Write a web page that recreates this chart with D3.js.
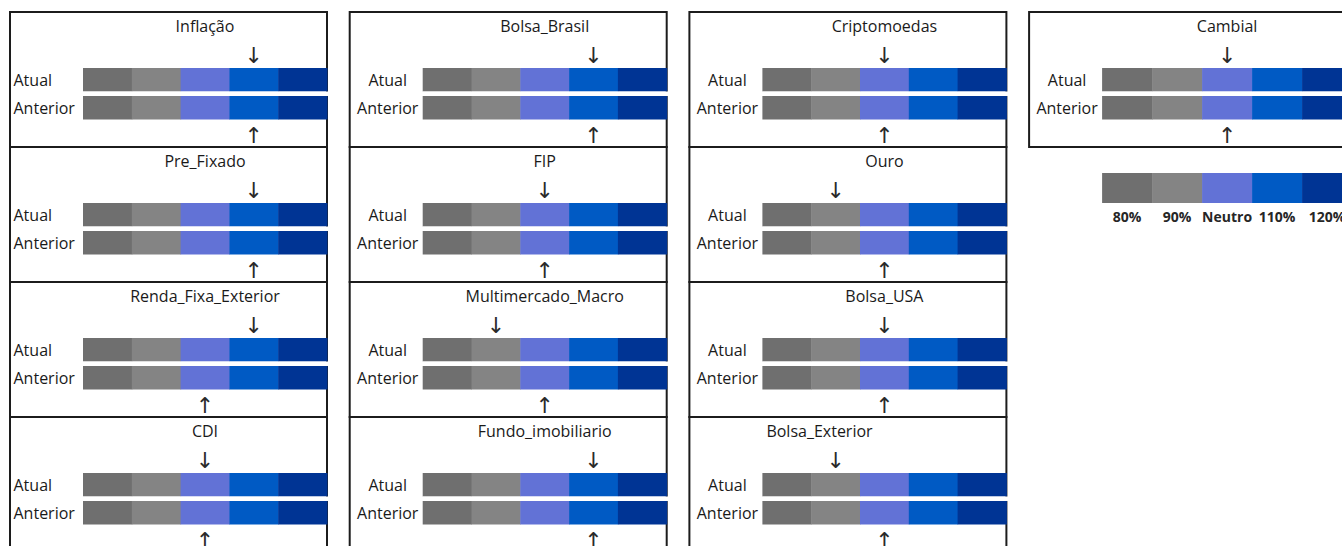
<!DOCTYPE html>
<html>
<head>
<meta charset="utf-8">
<script src="https://cdn.jsdelivr.net/npm/d3@7/dist/d3.min.js"></script>
<style>
  body { margin: 0; background: #ffffff; }
  svg { display: block; }
</style>
</head>
<body>
<svg id="chart" width="1342" height="546"></svg>
<script>
// Allocation levels (scale of each gauge) and their colours
const levels = ['80%', '90%', 'Neutro', '110%', '120%'];
const levelColors = ['#6f6f6f', '#848484', '#6272d6', '#005ac4', '#003494'];
const rowLabels = ['Atual', 'Anterior'];

// Asset classes, in reading order (first row holds four panels, the rest three)
const assets = [
  'Inflação', 'Bolsa_Brasil', 'Criptomoedas', 'Cambial',
  'Pre_Fixado', 'FIP', 'Ouro',
  'Renda_Fixa_Exterior', 'Multimercado_Macro', 'Bolsa_USA',
  'CDI', 'Fundo_imobiliario', 'Bolsa_Exterior'
];

// Current and previous recommendation for each asset class
const atual = [
  '110%', '110%', 'Neutro', 'Neutro',
  '110%', 'Neutro', '90%',
  '110%', '90%', 'Neutro',
  'Neutro', '110%', '90%'
];
const anterior = [
  '110%', '110%', 'Neutro', 'Neutro',
  '110%', 'Neutro', 'Neutro',
  'Neutro', 'Neutro', 'Neutro',
  'Neutro', '110%', 'Neutro'
];

// ---- layout ----
const originX = 10, originY = 12;
const colStep = 339.7, rowStep = 135;
const boxW = 317, boxH = 135;
const barInset = 73;           // from panel's left edge to the gauge
const barTop = 56;             // from panel's top edge to the first gauge row
const barSpan = 51.5;          // both gauge rows together
const fontText = "'Open Sans', 'Noto Sans', sans-serif";
const fontArrow = "'DejaVu Sans', sans-serif";

const svg = d3.select('#chart');

function panelPos(i) {
  if (i < 4) return { row: 0, col: i };
  return { row: 1 + Math.floor((i - 4) / 3), col: (i - 4) % 3 };
}

const rowScale = d3.scaleBand()
  .domain(rowLabels)
  .range([barTop, barTop + barSpan])
  .paddingInner(0.16)
  .paddingOuter(0);

const panels = assets.map((name, i) => ({
  name, i, ...panelPos(i), atual: atual[i], anterior: anterior[i]
}));

panels.forEach(p => {
  const x0 = originX + p.col * colStep;
  const y0 = originY + p.row * rowStep;
  const barW = p.col === 3 ? 250 : 244;
  const x = d3.scaleBand().domain(levels).range([x0 + barInset, x0 + barInset + barW]);
  const color = d3.scaleOrdinal().domain(levels).range(levelColors);

  const g = svg.append('g').attr('class', 'panel');

  // frame
  g.append('rect')
    .attr('x', x0).attr('y', y0)
    .attr('width', boxW).attr('height', boxH)
    .attr('fill', 'none')
    .attr('stroke', '#1c1c1c')
    .attr('stroke-width', 2);

  // title
  const bExtent = x.range();
  const alignStart = p.name === 'Bolsa_Exterior';
  g.append('text')
    .attr('x', alignStart ? bExtent[0] + 4 : (bExtent[0] + bExtent[1]) / 2)
    .attr('y', y0 + barTop - 36)
    .attr('text-anchor', alignStart ? 'start' : 'middle')
    .attr('font-family', fontText)
    .attr('font-size', 16)
    .attr('fill', '#1a1a1a')
    .text(p.name);

  // gauge rows
  rowLabels.forEach(r => {
    const ry = y0 + rowScale(r);
    const bh = rowScale.bandwidth();
    g.selectAll(null)
      .data(levels)
      .join('rect')
      .attr('x', d => x(d))
      .attr('y', ry)
      .attr('width', x.bandwidth() + 0.5)
      .attr('height', bh)
      .attr('fill', d => color(d));

    const col1 = p.col === 0;
    g.append('text')
      .attr('x', col1 ? x0 + 3.5 : x0 + 38)
      .attr('y', ry + bh / 2 + 6.5)
      .attr('text-anchor', col1 ? 'start' : 'middle')
      .attr('font-family', fontText)
      .attr('font-size', 16)
      .attr('fill', '#1a1a1a')
      .text(r);
  });

  // white gap between the two rows (also crosses the frame)
  const gapTop = y0 + rowScale('Atual') + rowScale.bandwidth();
  const gapBottom = y0 + rowScale('Anterior');
  g.append('rect')
    .attr('x', bExtent[0])
    .attr('y', gapTop)
    .attr('width', bExtent[1] - bExtent[0] + 2)
    .attr('height', gapBottom - gapTop)
    .attr('fill', '#fff');

  // markers: ↓ above for the current level, ↑ below for the previous one
  g.append('text')
    .attr('x', x(p.atual) + x.bandwidth() / 2)
    .attr('y', y0 + barTop - 5)
    .attr('text-anchor', 'middle')
    .attr('font-family', fontArrow)
    .attr('font-size', 22)
    .attr('fill', '#2a2a2a')
    .text('↓');
  g.append('text')
    .attr('x', x(p.anterior) + x.bandwidth() / 2)
    .attr('y', y0 + barTop + barSpan + 23)
    .attr('text-anchor', 'middle')
    .attr('font-family', fontArrow)
    .attr('font-size', 22)
    .attr('fill', '#2a2a2a')
    .text('↑');
});

// ---- legend ----
{
  const lx0 = originX + 3 * colStep + barInset;
  const lx = d3.scaleBand().domain(levels).range([lx0, lx0 + 250]);
  const lg = svg.append('g').attr('class', 'legend');
  lg.selectAll('rect')
    .data(levels)
    .join('rect')
    .attr('x', d => lx(d))
    .attr('y', 173)
    .attr('width', lx.bandwidth() + 0.5)
    .attr('height', 30)
    .attr('fill', (d, i) => levelColors[i]);
  lg.selectAll('text')
    .data(levels)
    .join('text')
    .attr('x', d => lx(d) + lx.bandwidth() / 2)
    .attr('y', 222)
    .attr('text-anchor', 'middle')
    .attr('font-family', fontText)
    .attr('font-weight', 'bold')
    .attr('font-size', 14)
    .attr('fill', '#262626')
    .text(d => d);
}
</script>
</body>
</html>
